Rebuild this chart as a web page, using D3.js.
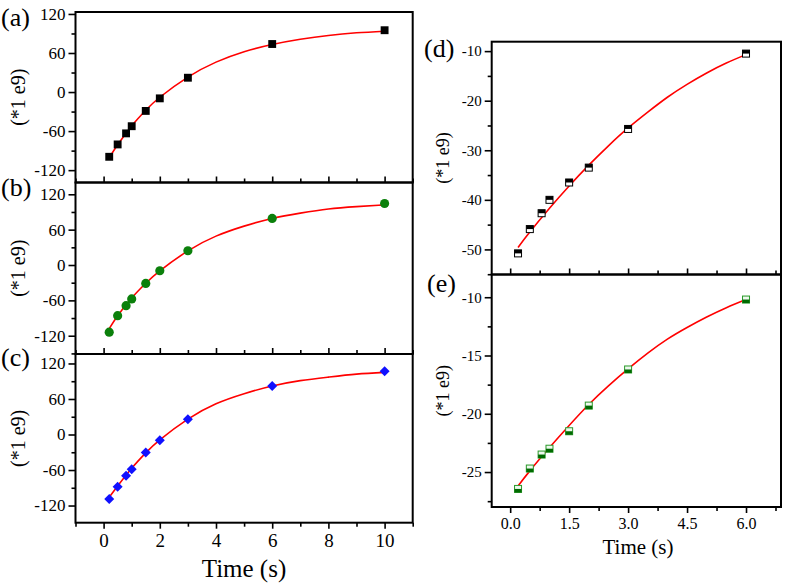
<!DOCTYPE html>
<html><head><meta charset="utf-8">
<script src="https://cdn.jsdelivr.net/npm/d3@7"></script>
<style>body{margin:0;background:#fff}svg{display:block}</style>
</head><body><svg id="c" width="787" height="583"></svg>
<script>
// ---- data ----
const timeA = [0.2, 0.5, 0.8, 1.0, 1.5, 2, 3, 6, 10];
const valA = [-99.5, -80.5, -63.5, -52.5, -29, -9.7, 22, 73.8, 95];
const valB = [-114, -86, -69, -57.6, -31.2, -9.7, 24.2, 79, 104.4];
const valC = [-109, -88.3, -69.8, -58.5, -30.3, -9.6, 25.8, 82, 106.7];
const fitTimeL = [0.2, 0.5, 1, 1.5, 2, 3, 4, 5, 6, 7, 8, 9, 10];
const fitA = [-101, -81, -52, -28, -8, 23, 46, 62, 73, 81, 87, 91, 93.5];
const fitB = [-108, -86, -56, -31, -10, 24, 49, 66, 79, 88, 95, 99, 102];
const fitC = [-106, -87, -57, -31, -9, 26, 52, 69, 82, 91, 97, 102, 105];
const timeD = [0.2, 0.5, 0.8, 1.0, 1.5, 2, 3, 6];
const valD = [-50.8, -45.9, -42.7, -40.0, -36.5, -33.5, -25.7, -10.5];
const valE = [-26.45, -24.7, -23.5, -23.0, -21.5, -19.3, -16.2, -10.2];
const fitTimeR = [0.2, 0.5, 1, 1.5, 2, 2.5, 3, 3.5, 4, 4.5, 5, 5.5, 6];
const fitD = [-49.6, -46.5, -41.7, -37.2, -33.0, -29.1, -25.5, -22.3, -19.3, -16.7, -14.4, -12.4, -10.7];
const fitE = [-26.2, -24.9, -22.9, -21.0, -19.2, -17.6, -16.15, -14.8, -13.6, -12.6, -11.7, -10.9, -10.2];
const leftYMajor = [-120, -60, 0, 60, 120];
const leftYMinor = [-150, -90, -30, 30, 90];
const leftXMajor = [0, 2, 4, 6, 8, 10];
const leftXMinor = [-1, 1, 3, 5, 7, 9, 11];
const dYMajor = [-50, -40, -30, -20, -10];
const dYMinor = [-55, -45, -35, -25, -15];
const eYMajor = [-25, -20, -15, -10];
const eYMinor = [-27.5, -22.5, -17.5, -12.5];
const rightXMajor = [0, 1.5, 3, 4.5, 6];
const rightXMinor = [0.75, 2.25, 3.75, 5.25, 6.75];
const panelLabels = ["(a)", "(b)", "(c)", "(d)", "(e)"];
const yTitle = "(*1 e9)";
const xTitle = "Time (s)";

const FONT = "'Liberation Serif', 'Times New Roman', Tinos, 'DejaVu Serif', serif";
const svg = d3.select("#c");
const intFmt = d => d3.format("d")(d).replace("\u2212", "-");
const oneFmt = d => d3.format(".1f")(d).replace("\u2212", "-");

function panel(o) {
  const g = svg.append("g");
  const x = d3.scaleLinear().domain(o.xDomain).range([o.x0, o.x1]);
  const y = d3.scaleLinear().domain(o.yDomain).range([o.y1, o.y0]);
  const inY = v => v >= o.yDomain[0] - 1e-9 && v <= o.yDomain[1] + 1e-9;
  const ya = g.append("g").attr("transform", `translate(${o.x0},0)`)
    .call(d3.axisLeft(y).tickValues(o.yMajor).tickSize(7).tickPadding(3).tickFormat(o.yFmt));
  const ym = g.append("g").attr("transform", `translate(${o.x0},0)`)
    .call(d3.axisLeft(y).tickValues(o.yMinor.filter(inY)).tickSize(4).tickFormat(""));
  [ya, ym].forEach(a => { a.attr("font-family", null); a.select(".domain").remove(); a.selectAll("line").attr("stroke", "#000").attr("stroke-width", 1.6); });
  ya.selectAll("text").style("font-size", o.yFs + "px").style("font-family", FONT).attr("fill", "#000");
  let xa, xm;
  if (o.outerX) {
    xa = g.append("g").attr("transform", `translate(0,${o.y1})`)
      .call(d3.axisBottom(x).tickValues(o.xMajor).tickSize(6).tickPadding(5).tickFormat(o.xFmt));
    xm = g.append("g").attr("transform", `translate(0,${o.y1})`)
      .call(d3.axisBottom(x).tickValues(o.xMinor).tickSize(4).tickFormat(""));
    xa.selectAll("text").style("font-size", o.xFs + "px").style("font-family", FONT).attr("fill", "#000");
  } else {
    xa = g.append("g").attr("transform", `translate(0,${o.y1})`)
      .call(d3.axisBottom(x).tickValues(o.xMajor).tickSize(-6).tickFormat(""));
    xm = g.append("g").attr("transform", `translate(0,${o.y1})`)
      .call(d3.axisBottom(x).tickValues(o.xMinor).tickSize(-4).tickFormat(""));
  }
  [xa, xm].forEach(a => { a.attr("font-family", null); a.select(".domain").remove(); a.selectAll("line").attr("stroke", "#000").attr("stroke-width", 1.6); });
  g.append("rect").attr("x", o.x0).attr("y", o.y0).attr("width", o.x1 - o.x0).attr("height", o.y1 - o.y0)
    .attr("fill", "none").attr("stroke", "#000").attr("stroke-width", 2);
  const line = d3.line().x(d => x(d[0])).y(d => y(d[1])).curve(d3.curveNatural);
  g.append("path").datum(o.fitX.map((t, i) => [t, o.fitY[i]]))
    .attr("d", line).attr("fill", "none").attr("stroke", "#ff0000").attr("stroke-width", 1.6);
  const pts = o.px.map((t, i) => [t, o.py[i]]);
  const mg = g.append("g");
  pts.forEach(p => {
    const cx = x(p[0]), cy = y(p[1]);
    if (o.marker === "square") {
      mg.append("path").attr("d", d3.symbol(d3.symbolSquare, 62)()).attr("transform", `translate(${cx},${cy})`).attr("fill", "#000");
    } else if (o.marker === "circle") {
      mg.append("path").attr("d", d3.symbol(d3.symbolCircle, 66)()).attr("transform", `translate(${cx},${cy})`).attr("fill", "#0b800b");
    } else if (o.marker === "diamond") {
      mg.append("path").attr("d", d3.symbol(d3.symbolSquare, 50)()).attr("transform", `translate(${cx},${cy}) rotate(45)`).attr("fill", "#1010ff");
    } else {
      const s = 7;
      mg.append("rect").attr("x", cx - s / 2).attr("y", cy - s / 2).attr("width", s).attr("height", s)
        .attr("fill", o.marker === "halfD" ? "#fff" : "#eef8ee").attr("stroke", o.marker === "halfD" ? "#000" : "#2a9a2a").attr("stroke-width", 1);
      if (o.marker === "halfD") {
        mg.append("rect").attr("x", cx - s / 2).attr("y", cy - s / 2).attr("width", s).attr("height", s / 2).attr("fill", "#000");
      } else {
        mg.append("rect").attr("x", cx - s / 2).attr("y", cy).attr("width", s).attr("height", s / 2).attr("fill", "#006a00");
      }
    }
  });
  g.append("text").attr("x", o.lx).attr("y", o.ly).style("font-size", o.lFs + "px").style("font-family", FONT).text(o.label);
  g.append("text").attr("transform", `translate(${o.tx},${(o.y0 + o.y1) / 2}) rotate(-90)`)
    .attr("text-anchor", "middle").attr("dominant-baseline", "central")
    .style("font-size", o.tFs + "px").style("font-family", FONT).text(yTitle);
}

const L = { x0: 75.5, x1: 412.7, xDomain: [-1, 11], xMajor: leftXMajor, xMinor: leftXMinor, xFmt: intFmt,
  yMajor: leftYMajor, yMinor: leftYMinor, yFmt: intFmt, yFs: 17, xFs: 19, lFs: 26, tFs: 20, tx: 18, fitX: fitTimeL, px: timeA };
panel(Object.assign({}, L, { y0: 12, y1: 182.5, yDomain: [-139, 123], outerX: false, fitY: fitA, py: valA, marker: "square", label: panelLabels[0], lx: 1, ly: 26 }));
panel(Object.assign({}, L, { y0: 182.5, y1: 354, yDomain: [-151, 140], outerX: false, fitY: fitB, py: valB, marker: "circle", label: panelLabels[1], lx: 1, ly: 196 }));
panel(Object.assign({}, L, { y0: 354, y1: 522.7, yDomain: [-149, 136], outerX: true, fitY: fitC, py: valC, marker: "diamond", label: panelLabels[2], lx: 1, ly: 366 }));

const R = { x0: 491.7, x1: 781, xDomain: [-0.47, 6.89], xMajor: rightXMajor, xMinor: rightXMinor, xFmt: oneFmt,
  yFmt: intFmt, yFs: 15, xFs: 16, lFs: 26, tFs: 18, tx: 443, fitX: fitTimeR, px: timeD };
panel(Object.assign({}, R, { y0: 41.7, y1: 274.5, yDomain: [-55.06, -8.1], yMajor: dYMajor, yMinor: dYMinor, outerX: false, fitY: fitD, py: valD, marker: "halfD", label: panelLabels[3], lx: 424, ly: 57 }));
panel(Object.assign({}, R, { y0: 274.5, y1: 507, yDomain: [-28, -8.05], yMajor: eYMajor, yMinor: eYMinor, outerX: true, fitY: fitE, py: valE, marker: "halfE", label: panelLabels[4], lx: 427, ly: 292 }));

svg.append("text").attr("x", 244).attr("y", 577).attr("text-anchor", "middle").style("font-size", "25px").style("font-family", FONT).text(xTitle);
svg.append("text").attr("x", 638).attr("y", 554).attr("text-anchor", "middle").style("font-size", "21px").style("font-family", FONT).text(xTitle);
</script></body></html>
